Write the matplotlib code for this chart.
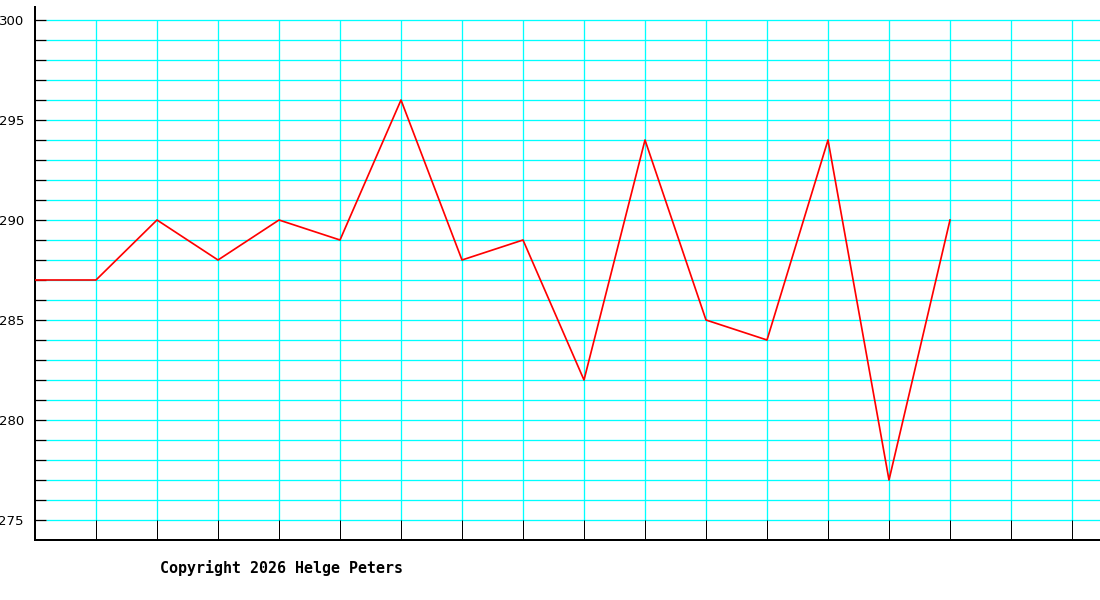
import numpy as np
import matplotlib
matplotlib.use("Agg")
import matplotlib.pyplot as plt

# data
values = [287, 287, 290, 288, 290, 289, 296, 288, 289, 282, 294, 285, 284, 294, 277, 290]
x = np.arange(len(values))
grid_x = np.arange(1, 18)
grid_y = np.arange(275, 301)
label_y = np.arange(275, 301, 5)

px = 72 / 100  # one pixel in points at dpi 100

fig = plt.figure(figsize=(11, 6), dpi=100)
ax = fig.add_axes([35 / 1100, 60 / 600, 1065 / 1100, 533 / 600])

xmax = 1065 / 61
ax.set_xlim(0, xmax)
ax.set_ylim(274, 274 + 533 / 20)

tick_len = 11 / 61
ax.hlines(grid_y, tick_len, xmax, colors="#00ffff", linewidth=1.3 * px, zorder=1)
ax.vlines(grid_x, 275, 300, colors="#00ffff", linewidth=1.3 * px, zorder=1)

ax.plot(x, values, color="#ff0000", linewidth=1.7 * px, zorder=3)

for s in ["top", "right"]:
    ax.spines[s].set_visible(False)
for s in ["left", "bottom"]:
    ax.spines[s].set_linewidth(2 * px)
    ax.spines[s].set_color("black")

ax.set_xticks(grid_x)
ax.set_xticklabels([])
ax.tick_params(axis="x", direction="in", length=20 * px, width=1 * px, color="black")

ax.set_yticks(label_y)
ax.set_yticklabels([str(v) for v in label_y], fontsize=9.5, family="DejaVu Sans")
ax.set_yticks(grid_y, minor=True)
ax.tick_params(axis="y", which="both", direction="in", length=11 * px, width=1.3 * px,
               color="black", pad=8)

fig.text(160 / 1100, 1 - 568 / 600, "Copyright 2026 Helge Peters", fontsize=10.8,
         family="DejaVu Sans Mono", fontweight="bold", va="center", ha="left")

fig.savefig("out.png", dpi=100)
